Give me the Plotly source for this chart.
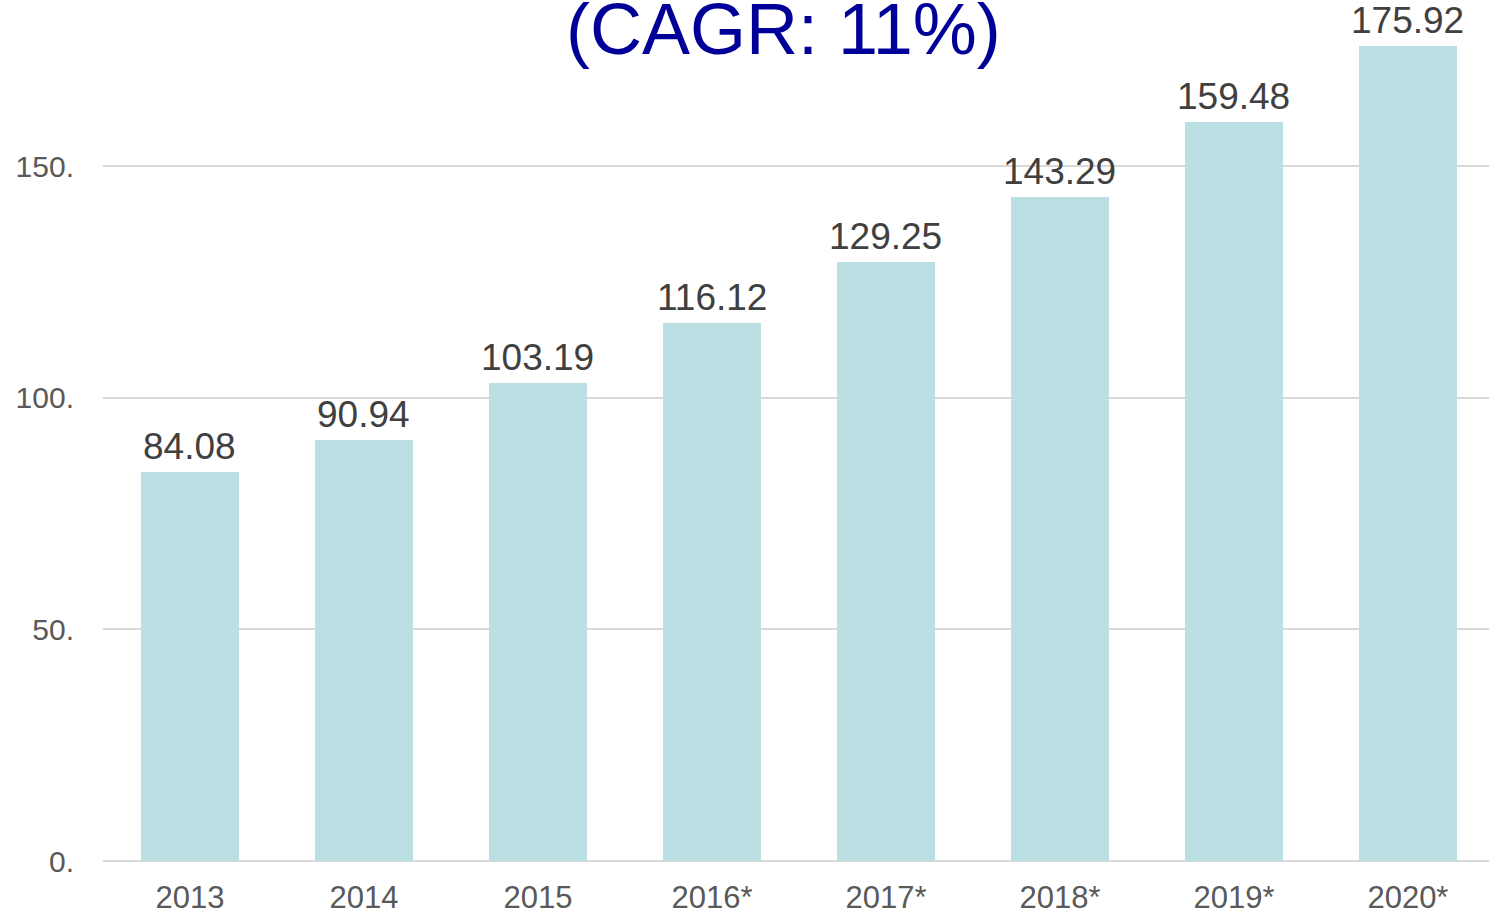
import plotly.graph_objects as go

years = ["2013", "2014", "2015", "2016*", "2017*", "2018*", "2019*", "2020*"]
values = [84.08, 90.94, 103.19, 116.12, 129.25, 143.29, 159.48, 175.92]
y_ticks = [0, 50, 100, 150]
y_tick_text = ["0.", "50.", "100.", "150."]
title_text = "(CAGR: 11%)"

W, H = 1489, 914
ml, mr, mt, mb = 103, 0, 4, 53
FONT = "Liberation Sans, Arial"

fig = go.Figure()
fig.add_trace(go.Bar(
    x=list(range(len(years))), y=values,
    marker=dict(color="#BAE0E3", line=dict(width=0)),
    width=0.56, hoverinfo="skip",
))

annotations = [dict(
    x=i, y=v, xref="x", yref="y", text=f"{v:.2f}",
    showarrow=False, xanchor="center", yanchor="bottom", yshift=3,
    font=dict(family=FONT, size=37, color="#404040"),
) for i, v in enumerate(values)]

annotations.append(dict(
    text=title_text, x=(783 - ml) / (W - ml - mr), xref="paper", xanchor="center",
    y=1.0, yref="paper", yanchor="middle", yshift=-25,
    showarrow=False,
    font=dict(family=FONT, size=72, color="#000099"),
))

fig.update_layout(
    width=W, height=H,
    margin=dict(l=ml, r=mr, t=mt, b=mb),
    plot_bgcolor="white", paper_bgcolor="white",
    showlegend=False,
    bargap=0,
    xaxis=dict(
        tickmode="array", tickvals=list(range(len(years))), ticktext=years,
        range=[-0.5, 7.466], automargin=False,
        tickfont=dict(family=FONT, size=31, color="#595959"),
        showgrid=False, zeroline=False, showline=False, ticks="",
        ticklabelstandoff=15,
    ),
    yaxis=dict(
        range=[0, 185], automargin=False,
        tickmode="array", tickvals=y_ticks, ticktext=y_tick_text,
        tickfont=dict(family=FONT, size=30, color="#595959"),
        gridcolor="#D9D9D9", gridwidth=2,
        zeroline=True, zerolinecolor="#D9D9D9", zerolinewidth=2,
        showline=False, ticks="", ticklabelstandoff=28,
    ),
    annotations=annotations,
)

fig.write_html(
    "out.html",
    config={"displayModeBar": False},
    post_script="document.body.style.margin='0px';document.body.style.overflow='hidden';",
)
